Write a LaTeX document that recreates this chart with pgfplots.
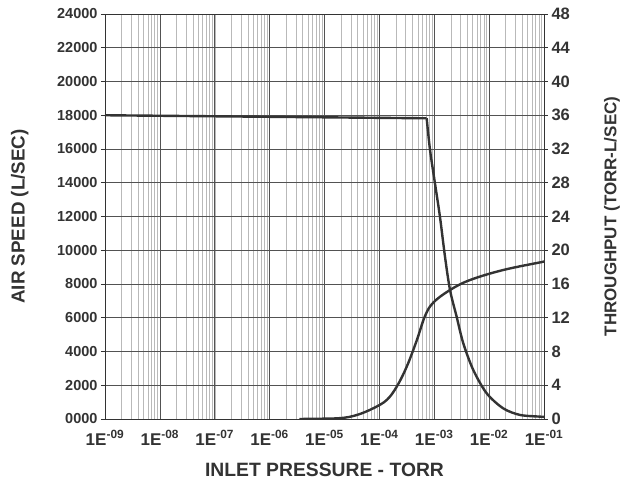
\documentclass[border=0pt]{standalone}
\usepackage{fontspec}
\setmainfont{Liberation Sans}
\usepackage{pgfplots}
\pgfplotsset{compat=1.18}

\definecolor{ink}{HTML}{333333}

\pgfplotsset{
  chartbase/.style={
    scale only axis,
    width=439pt, height=405pt,
    at={(105pt,64pt)}, anchor=south west,
    xmin=1e-9, xmax=1e-1,
    axis line style={ink, line width=0.8pt},
    tick style={ink, line width=0.6pt},
    tick align=outside,
    major tick length=4pt,
    scaled y ticks=false,
  },
}

\begin{document}
\begin{tikzpicture}
\path[use as bounding box] (0,0) rectangle (622pt,483pt);

% left axis: air speed
\begin{axis}[
    xmode=log,
    chartbase,
    ymin=0, ymax=24000,
    ytick={0,2000,...,24000},
    yticklabels={0000,2000,4000,6000,8000,10000,12000,14000,16000,18000,20000,22000,24000},
    xtick={1e-9,1e-8,1e-7,1e-6,1e-5,1e-4,1e-3,1e-2,1e-1},
    xticklabels={1E\textsuperscript{-09},1E\textsuperscript{-08},1E\textsuperscript{-07},1E\textsuperscript{-06},1E\textsuperscript{-05},1E\textsuperscript{-04},1E\textsuperscript{-03},1E\textsuperscript{-02},1E\textsuperscript{-01}},
    x tick style={draw=none},
    minor x tick style={draw=none},
    grid=both,
    major grid style={ink!85, line width=0.6pt},
    minor grid style={gray!55, line width=0.35pt},
    yticklabel style={font=\fontsize{14.5}{16}\selectfont\bfseries, text=ink},
    xticklabel style={font=\fontsize{17}{19}\selectfont\bfseries, text=ink, yshift=-4pt},
    xlabel={INLET PRESSURE - TORR},
    ylabel={AIR SPEED (L/SEC)},
    xlabel style={font=\fontsize{19.3}{21}\selectfont\bfseries, text=ink,
      at={(axis description cs:0.5,-0.126)}, anchor=center},
    ylabel style={font=\fontsize{18.8}{20}\selectfont\bfseries, text=ink,
      at={(axis description cs:-0.194,0.5)}, anchor=center},
]
\addplot[ink, line width=2.4pt] coordinates {
  (1e-9,18000) (7.28e-4,17820)
};
\addplot[ink, line width=2.4pt, smooth, tension=0.5] coordinates {
  (7.28e-4,17820) (8.38e-4,15940) (1.03e-3,13970) (1.27e-3,11990)
  (1.57e-3,9620) (1.94e-3,7640) (2.56e-3,6060) (3.38e-3,4490)
  (5.15e-3,2900) (9.04e-3,1520) (1.81e-2,630) (3.66e-2,240)
  (8.45e-2,140) (1e-1,130)
};
\end{axis}

% right axis: throughput
\begin{axis}[
    xmode=log,
    chartbase,
    axis x line=none,
    axis y line*=right,
    ymin=0, ymax=48,
    ytick={0,4,...,48},
    yticklabels={0,4,8,12,16,20,24,28,32,36,40,44,48},
    yticklabel style={font=\fontsize{16.5}{18}\selectfont\bfseries, text=ink},
    ylabel={THROUGHPUT (TORR-L/SEC)},
    ylabel style={font=\fontsize{17}{19}\selectfont\bfseries, text=ink,
      at={(axis description cs:1.155,0.5)}, anchor=center},
]
\addplot[ink, line width=2.4pt, smooth, tension=0.6] coordinates {
  (3.5e-6,0) (5.4e-6,0.02) (1.9e-5,0.1) (3.86e-5,0.47) (7.74e-5,1.27)
  (1.36e-4,2.25) (2.07e-4,3.83) (3.15e-4,6.2) (4.79e-4,9.3)
  (6.78e-4,12.2) (9.62e-4,13.8) (1.94e-3,15.29)
  (4.48e-3,16.47) (1.81e-2,17.66) (9.7e-2,18.64) (1e-1,18.7)
};
\end{axis}
\end{tikzpicture}
\end{document}
